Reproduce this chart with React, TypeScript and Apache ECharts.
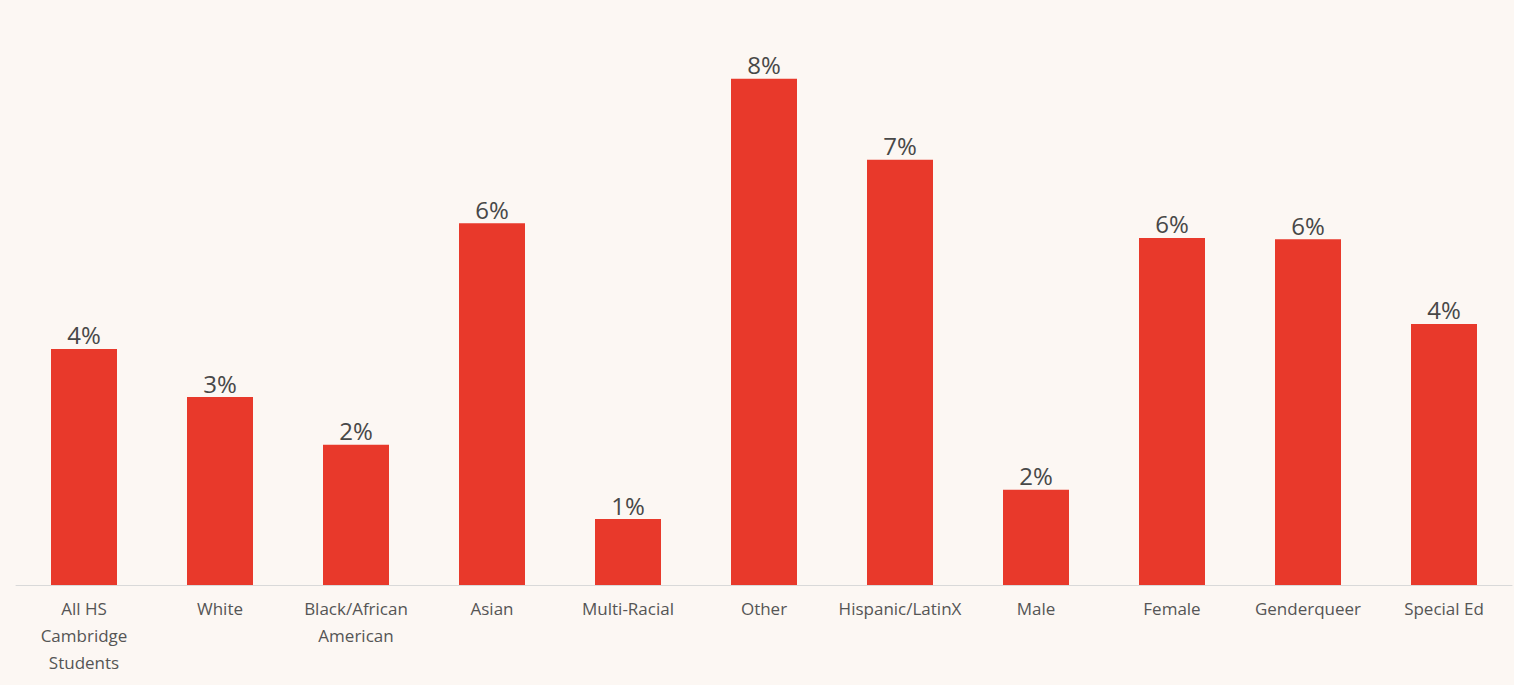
import React, { useEffect, useRef } from "react";
import * as echarts from "echarts";

const categories = [
  "All HS\nCambridge\nStudents",
  "White",
  "Black/African\nAmerican",
  "Asian",
  "Multi-Racial",
  "Other",
  "Hispanic/LatinX",
  "Male",
  "Female",
  "Genderqueer",
  "Special Ed",
];
const values = [3.87, 3.08, 2.3, 5.93, 1.08, 8.3, 6.97, 1.56, 5.69, 5.67, 4.28];

export default function App() {
  const ref = useRef<HTMLDivElement>(null);
  useEffect(() => {
    if (!ref.current) return;
    const chart = echarts.init(ref.current, null, { renderer: "svg" });
    chart.setOption({
      animation: false,
      backgroundColor: "#fcf7f3",
      textStyle: { fontFamily: "Open Sans, Lato, sans-serif" },
      grid: { left: 16, right: 2, top: 36, bottom: 100, containLabel: false },
      xAxis: {
        type: "category",
        data: categories,
        axisLine: { show: true, lineStyle: { color: "#d9d9d9", width: 1 } },
        axisTick: { show: false },
        axisLabel: {
          color: "#555555",
          fontSize: 17,
          lineHeight: 27,
          margin: 10,
          interval: 0,
        },
      },
      yAxis: {
        type: "value",
        min: 0,
        max: 9,
        show: false,
        splitLine: { show: false },
      },
      series: [
        {
          type: "bar",
          data: values,
          barWidth: 66,
          itemStyle: { color: "#e8392b" },
          label: {
            show: true,
            position: "top",
            distance: 2,
            color: "#484848",
            fontSize: 24,
            formatter: (p: any) => Math.round(p.value) + "%",
          },
        },
      ],
    });
    return () => chart.dispose();
  }, []);
  return (
    <div
      ref={ref}
      style={{ position: "absolute", left: 0, top: 0, width: 1514, height: 685 }}
    />
  );
}
